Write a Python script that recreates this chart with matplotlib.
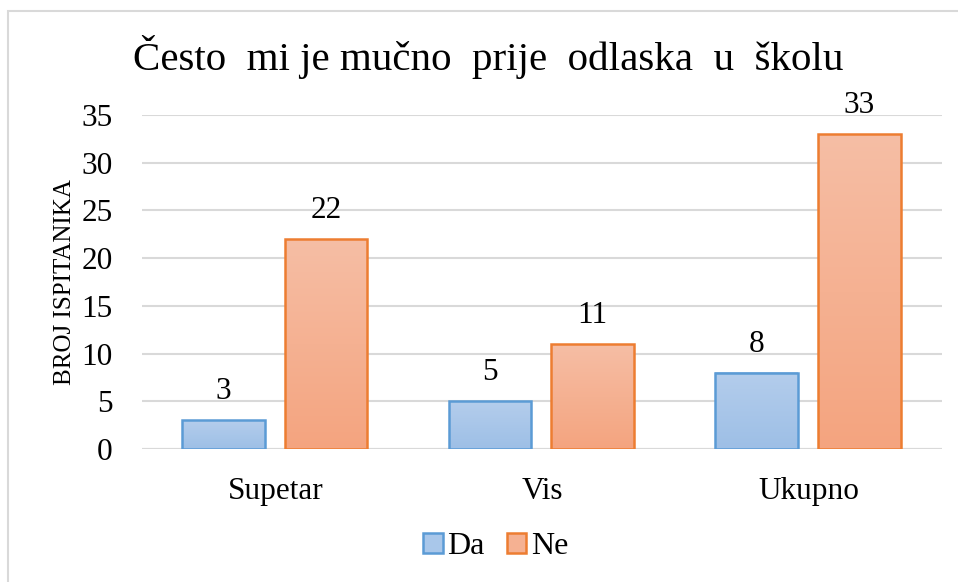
import numpy as np
import matplotlib
matplotlib.use("Agg")
import matplotlib.pyplot as plt
from matplotlib.colors import LinearSegmentedColormap
from matplotlib.patches import Rectangle

categories = ["Supetar", "Vis", "Ukupno"]
series_names = ["Da", "Ne"]
da_values = [3, 5, 8]
ne_values = [22, 11, 33]
y_ticks = [0, 5, 10, 15, 20, 25, 30, 35]
title = "Često  mi je mučno  prije  odlaska  u  školu"
ylabel = "BROJ ISPITANIKA"

plt.rcParams['font.family'] = ['Liberation Serif', 'DejaVu Serif']

W, H = 958, 582
fig = plt.figure(figsize=(W/100, H/100), dpi=100)

# outer chart border
fig.patches.append(Rectangle((8/W, -0.1), 1.2, 1 - 11/H + 0.1, transform=fig.transFigure,
                             fill=False, edgecolor='#d9d9d9', linewidth=1.5))

ax = fig.add_axes([142/W, 1 - 449/H, 800/W, (449 - 115)/H])
ax.set_yticks(y_ticks)
ax.set_yticklabels([str(t) for t in y_ticks], fontsize=22.5)
ax.set_xticks(range(len(categories)))
ax.set_xticklabels(categories, fontsize=22.5)
ax.tick_params(axis='both', length=0)
ax.tick_params(axis='x', pad=20)
ax.tick_params(axis='y', pad=21)
for s in ax.spines.values():
    s.set_visible(False)
ax.yaxis.grid(True, color='#d9d9d9', linewidth=1.5)
ax.set_axisbelow(True)
ax.axhline(0, color='#d9d9d9', linewidth=1.5, zorder=1)

ax.set_ylabel(ylabel, fontsize=18, labelpad=4)

cmap_da = LinearSegmentedColormap.from_list('da', ['#9dbfe6', '#b4cdec'])
cmap_ne = LinearSegmentedColormap.from_list('ne', ['#f4a47f', '#f6bea5'])

bw = 0.31
offsets = [-0.195, 0.19]
grad = np.linspace(0, 1, 256).reshape(-1, 1)
for vals, off, cmap, edge in [(da_values, offsets[0], cmap_da, '#5b9bd5'),
                              (ne_values, offsets[1], cmap_ne, '#ed7d31')]:
    bars = ax.bar(np.arange(len(vals)) + off, vals, bw, facecolor='none',
                  edgecolor=edge, linewidth=1.8, zorder=3)
    for b, v in zip(bars, vals):
        x0 = b.get_x()
        ax.imshow(grad, extent=[x0, x0 + bw, 0, v], origin='lower', cmap=cmap,
                  aspect='auto', zorder=2)
        ax.annotate(str(v), (x0 + bw / 2, v), xytext=(0, 10), textcoords='offset points',
                    ha='center', va='bottom', fontsize=22.5)
ax.set_xlim(-0.5, 2.5)
ax.set_ylim(0, 35)

fig.text(488/W, 1 - 57/H, title, ha='center', va='center', fontsize=29.5)

# legend
handles = [Rectangle((0, 0), 1, 1, facecolor='#a9c7ea', edgecolor='#5b9bd5', linewidth=1.8),
           Rectangle((0, 0), 1, 1, facecolor='#f5b192', edgecolor='#ed7d31', linewidth=1.8)]
fig.legend(handles, series_names, loc='center', bbox_to_anchor=(496/W, 1 - 547/H),
           ncol=2, frameon=False, fontsize=23, handlelength=0.6, handleheight=0.6,
           handletextpad=0.15, columnspacing=0.7)

fig.savefig('out.png', dpi=100)
